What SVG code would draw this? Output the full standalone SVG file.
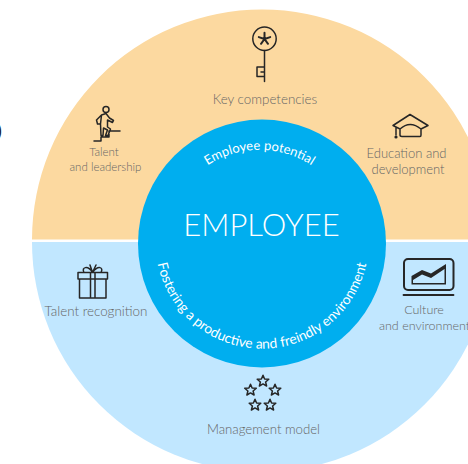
<svg xmlns="http://www.w3.org/2000/svg" width="468" height="464" viewBox="0 0 468 464">
<style>
.l{font-family:Lato,"Liberation Sans",sans-serif;font-size:13.400px;fill:#666;text-anchor:middle;font-weight:300}
.s{font-size:11.500px}
.m{font-size:12.500px}
.c{font-family:Lato,"Liberation Sans",sans-serif;font-size:13px;fill:#fff;font-weight:400}
.i{fill:none;stroke:#262626;stroke-width:1.500;stroke-linejoin:round;stroke-linecap:round}
</style>
<defs>
<path id="top" d="M 198.500 172 A 95 95 0 0 1 320.500 172"/>
<path id="bot" d="M 157 260 A 106.500 106.500 0 0 0 367 260"/>
<polygon id="star" points="0,-5.800 1.600,-2 5.800,-1.700 2.600,1 3.600,5 0,2.900 -3.600,5 -2.600,1 -5.800,-1.700 -1.600,-2"/>
</defs>
<text x="-3" y="137" font-family="Lato,sans-serif" font-size="17" font-weight="700" fill="#222" style="text-rendering:geometricPrecision">)</text>
<g id="ring-top"><path d="M32 239.500 A230 230 0 0 1 492 239.500 Z" fill="#fcd9a0"/></g>
<g id="ring-bottom"><path d="M32 242 H492 A230 230 0 0 1 32 242 Z" fill="#c1e7ff"/></g>
<g id="core">
<circle cx="262" cy="243.500" r="124" fill="#00aeef"/>
<text x="261.500" y="236" text-anchor="middle" font-family="Lato,sans-serif" font-size="31" font-weight="300" fill="#fff">EMPLOYEE</text>
<text class="c"><textPath href="#top" startOffset="50%" text-anchor="middle">Employee potential</textPath></text>
<text class="c" style="font-size:13.800px"><textPath href="#bot" startOffset="50%" text-anchor="middle">Fostering a productive and freindly environment</textPath></text>
</g>
<g id="key">
<circle class="i" cx="264.500" cy="38.700" r="11.700"/>
<path class="i" style="stroke-width:2" d="M264.500 39V32.800M264.500 39L270.200 37.100M264.500 39L268 43.800M264.500 39L261 43.800M264.500 39L258.800 37.100"/>
<path class="i" d="M264.500 50.500V81.500M264.500 67H257V76.500H264.500M264.500 72H261"/>
<text class="l" x="265" y="104">Key competencies</text>
</g>
<g id="talent-leadership">
<circle class="i" cx="106" cy="109.500" r="3"/>
<path class="i" d="M101.500 115L106 113.500L109.500 118L113.500 120.500L112.500 122.500L107.500 120L107.500 127L110.500 129L108 135.500H105.500L107.500 130L103.500 128L103 135.500H101L100.500 124L101.500 115ZM101.500 115L96.500 120L97.500 124L100.500 124M94 141H101V137H109V131H120"/>
<text class="l s" x="104" y="156">Talent</text>
<text class="l s" x="105.500" y="171">and leadership</text>
</g>
<g id="education">
<path class="i" d="M410 114.500L428 125.500L421 129Q410 120 400 129L393 125.500ZM400 129V135Q400 136.500 402 136.500H420Q421 136.500 421 135V129M396 127V135"/>
<circle cx="396" cy="137" r="1.600" fill="#262626"/>
<text class="l" style="font-size:13px" x="406.500" y="158">Education and</text>
<text class="l" style="font-size:13px" x="408" y="174">development</text>
</g>
<g id="recognition">
<path class="i" d="M78 272.500H107.500V279H78ZM79.500 279V298H106V279M90.500 272.500V298M95 272.500V298M92.500 272.500C88 265 81 267 84 272.500M92.500 272.500C98 265 104 267 101 272.500M92.500 272.500L90 265M92.500 272.500L96 265"/>
<text class="l" x="96" y="316">Talent recognition</text>
</g>
<g id="culture">
<rect x="404" y="259" width="49.500" height="31" rx="4" fill="none" stroke="#262626" stroke-width="2"/>
<path d="M411.500 284.500V276L422 270L431 273.500L446 264V284.500ZM413 283H444.500V269L431 278L422 274.500L413 280Z" fill="#262626" fill-rule="evenodd"/>
<path class="i" d="M403.500 295H453.500" style="stroke-width:1.800"/>
<text class="l m" x="424" y="314">Culture</text>
<text class="l m" x="424.500" y="330">and environment</text>
</g>
<g id="management">
<use href="#star" class="i" x="263" y="381"/>
<use href="#star" class="i" x="250.500" y="390"/>
<use href="#star" class="i" x="275" y="390"/>
<use href="#star" class="i" x="255" y="405"/>
<use href="#star" class="i" x="270" y="405"/>
<text class="l" style="font-size:13.200px" x="263.500" y="434">Management model</text>
</g>
</svg>
